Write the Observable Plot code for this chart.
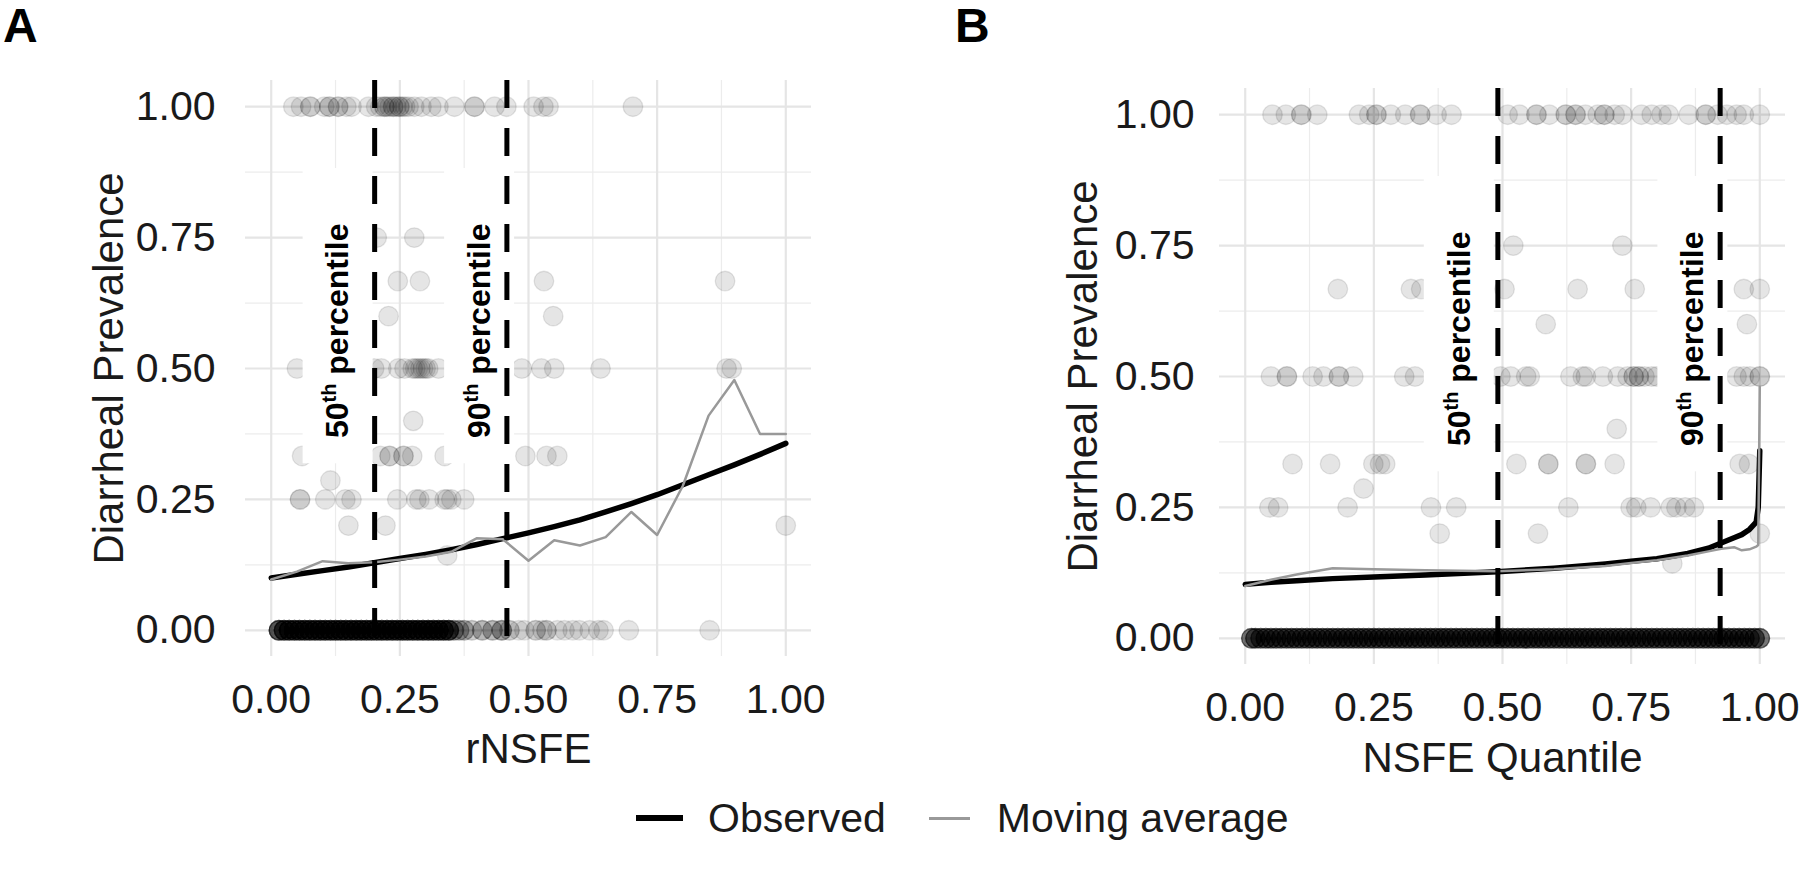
<!DOCTYPE html>
<html>
<head>
<meta charset="utf-8">
<script src="https://cdn.jsdelivr.net/npm/d3@7"></script>
<script src="https://cdn.jsdelivr.net/npm/@observablehq/plot@0.6"></script>
<style>
  body { margin: 0; background: #fff; font-family: "Liberation Sans", Arial, sans-serif; }
  #fig { position: relative; width: 1800px; height: 878px; overflow: hidden; background: #fff; }
  .panel { position: absolute; top: 0; }
  .tag { position: absolute; top: 1px; font-size: 48px; line-height: 1.05; font-weight: bold; color: #000; }
  .legend { position: absolute; left: 636px; top: 793px; display: flex; align-items: center; font-size: 41px; line-height: 50px; color: #1a1a1a; }
  .key { display: inline-block; }
</style>
</head>
<body>
<div id="fig">
  <div id="panelA" class="panel" style="left:0px"></div>
  <div id="panelB" class="panel" style="left:900px"></div>
  <div class="tag" style="left:3px">A</div>
  <div class="tag" style="left:955px">B</div>
  <div class="legend">
    <span class="key" style="width:47px;height:6px;background:#000"></span>
    <span style="margin-left:25px">Observed</span>
    <span class="key" style="margin-left:43px;width:41px;height:3px;background:#999"></span>
    <span style="margin-left:27px">Moving average</span>
  </div>
</div>
<script>
// ---------- shared axis values ----------
const tickValues = [0, 0.25, 0.5, 0.75, 1];
const minorValues = [0.125, 0.375, 0.625, 0.875];
const percentileNames = ["50th percentile", "90th percentile"];
const yTitle = "Diarrheal Prevalence";

// prevalence levels for the non-zero rows of points
const prevalenceLevels = [1, 0.75, 0.667, 0.6, 0.5, 0.4, 0.333, 0.286, 0.25, 0.2, 0.143];

// ---------- Panel A: rNSFE ----------
const xTitleA = "rNSFE";
const rnsfeAtLevel = [
  [0.043, 0.058, 0.076, 0.076, 0.103, 0.113, 0.113, 0.130, 0.130, 0.146, 0.156, 0.189, 0.204, 0.212, 0.220, 0.220, 0.225, 0.230, 0.237, 0.237, 0.243, 0.249, 0.249, 0.255, 0.260, 0.267, 0.278, 0.292, 0.311, 0.325, 0.356, 0.395, 0.395, 0.434, 0.457, 0.510, 0.529, 0.539, 0.703],
  [0.205, 0.278],
  [0.246, 0.289, 0.530, 0.882],
  [0.228, 0.548],
  [0.050, 0.200, 0.214, 0.247, 0.259, 0.275, 0.280, 0.285, 0.290, 0.295, 0.300, 0.305, 0.325, 0.487, 0.525, 0.550, 0.640, 0.885, 0.895],
  [0.276],
  [0.060, 0.212, 0.230, 0.230, 0.257, 0.257, 0.274, 0.337, 0.494, 0.535, 0.556],
  [0.115],
  [0.056, 0.056, 0.105, 0.144, 0.156, 0.245, 0.282, 0.288, 0.307, 0.337, 0.342, 0.350, 0.375],
  [0.150, 0.222, 1.000],
  [0.342]
];
// [rNSFE, number of overlapping households] on the zero-prevalence row
const zeroRnsfeDense = [
  [0.015, 10], [0.025, 10], [0.035, 10], [0.045, 10], [0.055, 10], [0.065, 10], [0.075, 10], [0.085, 10],
  [0.095, 10], [0.105, 10], [0.115, 10], [0.125, 10], [0.135, 10], [0.145, 10], [0.155, 10], [0.165, 10],
  [0.175, 10], [0.185, 10], [0.195, 10], [0.205, 10], [0.215, 10], [0.225, 10], [0.235, 10], [0.245, 10],
  [0.255, 10], [0.265, 10], [0.275, 10], [0.285, 10], [0.295, 10], [0.305, 10], [0.315, 10], [0.325, 10],
  [0.335, 10], [0.345, 10], [0.355, 4], [0.365, 3], [0.375, 3], [0.390, 2], [0.410, 3], [0.430, 3],
  [0.448, 4], [0.463, 2]
];
const zeroRnsfeSparse = [0.481, 0.492, 0.514, 0.514, 0.527, 0.535, 0.535, 0.556, 0.570, 0.586, 0.599, 0.619, 0.636, 0.646, 0.695, 0.852];

const rnsfeSteps = [0, 0.05, 0.1, 0.15, 0.2, 0.25, 0.3, 0.35, 0.4, 0.45, 0.5, 0.55, 0.6, 0.65, 0.7, 0.75, 0.8, 0.85, 0.9, 0.95, 1];
const observedA = [0.100, 0.107, 0.114, 0.121, 0.129, 0.137, 0.145, 0.154, 0.164, 0.175, 0.186, 0.198, 0.211, 0.226, 0.242, 0.259, 0.278, 0.297, 0.316, 0.336, 0.357];
const movingAvgA = [0.097, 0.112, 0.132, 0.128, 0.130, 0.135, 0.141, 0.150, 0.176, 0.174, 0.133, 0.172, 0.162, 0.178, 0.226, 0.182, 0.276, 0.410, 0.478, 0.375, 0.375];

const rnsfePercentiles = [0.201, 0.458];
const rnsfeLabelX = [0.130, 0.405];

// ---------- Panel B: NSFE quantile ----------
const xTitleB = "NSFE Quantile";
const quantileAtLevel = [
  [0.053, 0.079, 0.109, 0.109, 0.140, 0.221, 0.241, 0.255, 0.255, 0.283, 0.311, 0.340, 0.340, 0.372, 0.401, 0.510, 0.533, 0.566, 0.566, 0.591, 0.623, 0.623, 0.642, 0.642, 0.661, 0.685, 0.698, 0.698, 0.718, 0.733, 0.770, 0.790, 0.809, 0.823, 0.862, 0.895, 0.895, 0.918, 0.936, 0.955, 0.969, 1.000],
  [0.521, 0.733],
  [0.180, 0.322, 0.342, 0.504, 0.646, 0.757, 0.969, 1.000],
  [0.584, 0.975],
  [0.050, 0.081, 0.081, 0.131, 0.152, 0.182, 0.182, 0.210, 0.309, 0.330, 0.496, 0.516, 0.546, 0.553, 0.632, 0.656, 0.662, 0.695, 0.724, 0.743, 0.755, 0.755, 0.765, 0.765, 0.776, 0.790, 0.800, 0.955, 0.969, 0.981, 1.000, 1.000],
  [0.722],
  [0.092, 0.165, 0.249, 0.262, 0.272, 0.527, 0.589, 0.589, 0.662, 0.662, 0.718, 0.961, 0.979],
  [0.230],
  [0.047, 0.064, 0.199, 0.361, 0.410, 0.628, 0.749, 0.760, 0.788, 0.827, 0.838, 0.855, 0.872],
  [0.378, 0.569, 1.000],
  [0.830]
];
// zero-prevalence households spread evenly along the quantile axis: [quantile, households]
const zeroQuantileDense = [
  [0.012, 7], [0.020, 7], [0.030, 7], [0.040, 7], [0.050, 7], [0.060, 7], [0.070, 7], [0.080, 7], [0.090, 7], [0.100, 7],
  [0.110, 7], [0.120, 7], [0.130, 7], [0.140, 7], [0.150, 7], [0.160, 7], [0.170, 7], [0.180, 7], [0.190, 7], [0.200, 7],
  [0.210, 7], [0.220, 7], [0.230, 7], [0.240, 7], [0.250, 7], [0.260, 7], [0.270, 7], [0.280, 7], [0.290, 7], [0.300, 7],
  [0.310, 7], [0.320, 7], [0.330, 7], [0.340, 7], [0.350, 7], [0.360, 7], [0.370, 7], [0.380, 7], [0.390, 7], [0.400, 7],
  [0.410, 7], [0.420, 7], [0.430, 7], [0.440, 7], [0.450, 7], [0.460, 7], [0.470, 7], [0.480, 7], [0.490, 7], [0.500, 7],
  [0.510, 7], [0.520, 7], [0.530, 7], [0.540, 7], [0.550, 7], [0.560, 7], [0.570, 7], [0.580, 7], [0.590, 7], [0.600, 7],
  [0.610, 7], [0.620, 7], [0.630, 7], [0.640, 7], [0.650, 7], [0.660, 7], [0.670, 7], [0.680, 7], [0.690, 7], [0.700, 7],
  [0.710, 7], [0.720, 7], [0.730, 7], [0.740, 7], [0.750, 7], [0.760, 7], [0.770, 7], [0.780, 7], [0.790, 7], [0.800, 7],
  [0.810, 7], [0.820, 7], [0.830, 7], [0.840, 7], [0.850, 7], [0.860, 7], [0.870, 7], [0.880, 7], [0.890, 7], [0.900, 7],
  [0.910, 7], [0.920, 7], [0.930, 7], [0.940, 7], [0.950, 7], [0.960, 7], [0.970, 7], [0.980, 7], [0.990, 7], [1.000, 7]
];

const quantileSteps = [0, 0.05, 0.1, 0.17, 0.25, 0.35, 0.49, 0.6, 0.7, 0.75, 0.8, 0.86, 0.9, 0.925, 0.95, 0.965, 0.98, 0.993, 0.997, 1];
const observedB = [0.103, 0.107, 0.110, 0.114, 0.117, 0.121, 0.127, 0.134, 0.142, 0.147, 0.152, 0.162, 0.172, 0.182, 0.192, 0.198, 0.208, 0.222, 0.250, 0.358];
const movingAvgB = [0.100, 0.112, 0.122, 0.134, 0.132, 0.130, 0.128, 0.132, 0.138, 0.144, 0.149, 0.158, 0.166, 0.171, 0.174, 0.168, 0.170, 0.175, 0.178, 0.480];

const quantilePercentiles = [0.491, 0.923];
const quantileLabelX = [0.416, 0.870];

// ---------- helpers ----------
function buildPoints(levels, xsAtLevel, zeroDense, zeroSparse) {
  const pts = [];
  levels.forEach((lv, i) => xsAtLevel[i].forEach(x => pts.push({x, y: lv})));
  zeroDense.forEach(([x, n]) => { for (let k = 0; k < n; k++) pts.push({x, y: 0}); });
  (zeroSparse || []).forEach(x => pts.push({x, y: 0}));
  return pts;
}
function buildLine(xs, ys) { return xs.map((x, i) => ({x, y: ys[i]})); }

function superscript(svg) {
  d3.select(svg).selectAll("text").each(function () {
    const m = /^(\d+)(th) (percentile)$/.exec(this.textContent);
    if (!m) return;
    const sel = d3.select(this);
    sel.text(null);
    sel.append("tspan").text(m[1]);
    sel.append("tspan").attr("font-size", "20px").attr("dy", "-12").text(m[2]);
    sel.append("tspan").attr("dy", "12").text(" " + m[3]);
  });
}

function makePanel(cfg) {
  const labels = percentileNames.map((name, i) => ({name, x: cfg.labelX[i]}));
  const svg = Plot.plot({
    width: 900,
    height: 790,
    marginLeft: cfg.marginLeft,
    marginRight: cfg.marginRight,
    marginTop: cfg.marginTop,
    marginBottom: cfg.marginBottom,
    style: {fontFamily: "'Liberation Sans', Arial, sans-serif", fontSize: "41px", color: "#1a1a1a", background: "transparent", overflow: "visible"},
    x: {domain: [-0.05, 1.05], ticks: tickValues, tickFormat: d3.format(".2f"), tickSize: 0, tickPadding: 27, label: null},
    y: {domain: [-0.05, 1.05], ticks: tickValues, tickFormat: d3.format(".2f"), tickSize: 0, tickPadding: cfg.yPad, label: null},
    marks: [
      Plot.ruleX(minorValues, {stroke: "#ececec", strokeWidth: 1.2}),
      Plot.ruleY(minorValues, {stroke: "#ececec", strokeWidth: 1.2}),
      Plot.ruleX(tickValues, {stroke: "#e5e5e5", strokeWidth: 2.2}),
      Plot.ruleY(tickValues, {stroke: "#e5e5e5", strokeWidth: 2.2}),
      Plot.dot(cfg.points, {x: "x", y: "y", r: 9.8, fill: "black", fillOpacity: 0.1, stroke: "black", strokeOpacity: 0.1, strokeWidth: 1.3}),
      Plot.line(cfg.observed, {x: "x", y: "y", stroke: "black", strokeWidth: 5.5}),
      Plot.line(cfg.moving, {x: "x", y: "y", stroke: "#999999", strokeWidth: 2.5}),
      Plot.rect(labels, {x1: d => d.x - 0.068, x2: d => d.x + 0.068, y1: 0.318, y2: 0.882, fill: "white"}),
      Plot.ruleX(cfg.percentiles, {stroke: "black", strokeWidth: 5, strokeDasharray: "28,20"}),
      Plot.text(labels, {x: "x", y: () => 0.572, text: "name", rotate: -90, textAnchor: "middle", lineAnchor: "middle", fontSize: 32, fontWeight: "bold", fill: "black"}),
      Plot.text([yTitle], {frameAnchor: "left", textAnchor: "middle", lineAnchor: "middle", rotate: -90, dx: -136, fontSize: 42, fill: "#1a1a1a"}),
      Plot.text([cfg.xTitle], {frameAnchor: "bottom", textAnchor: "middle", lineAnchor: "middle", dy: cfg.xTitleDy, fontSize: 42, fill: "#1a1a1a"})
    ]
  });
  superscript(svg);
  return svg;
}

const svgA = makePanel({
  marginLeft: 245, marginRight: 89, marginTop: 80, marginBottom: 134, yPad: 30,
  points: buildPoints(prevalenceLevels, rnsfeAtLevel, zeroRnsfeDense, zeroRnsfeSparse),
  observed: buildLine(rnsfeSteps, observedA),
  moving: buildLine(rnsfeSteps, movingAvgA),
  percentiles: rnsfePercentiles,
  labelX: rnsfeLabelX,
  xTitle: xTitleA, xTitleDy: 93
});
document.getElementById("panelA").appendChild(svgA);

const svgB = makePanel({
  marginLeft: 319, marginRight: 15, marginTop: 88, marginBottom: 126, yPad: 25,
  points: buildPoints(prevalenceLevels, quantileAtLevel, zeroQuantileDense, []),
  observed: buildLine(quantileSteps, observedB),
  moving: buildLine(quantileSteps, movingAvgB),
  percentiles: quantilePercentiles,
  labelX: quantileLabelX,
  xTitle: xTitleB, xTitleDy: 94
});
document.getElementById("panelB").appendChild(svgB);
</script>
</body>
</html>
